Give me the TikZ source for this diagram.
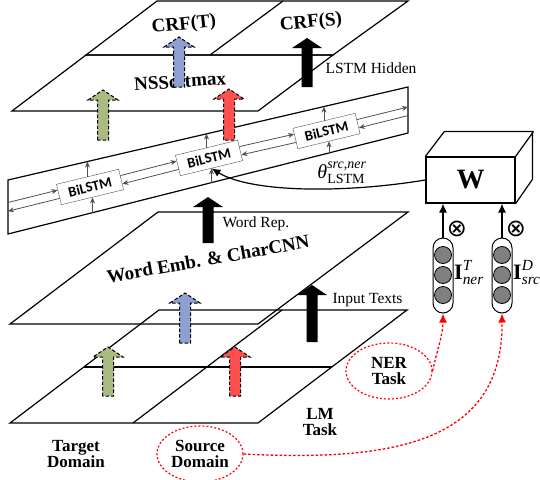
\documentclass[tikz,border=0pt]{standalone}
\usepackage{fontspec}
\usepackage{amsmath}
\setmainfont{Liberation Serif}
\newfontfamily\lstmfont{Carlito}
\newfontfamily\opfont{DejaVu Sans}
\usetikzlibrary{shapes.geometric,arrows.meta,calc}

\definecolor{softgreen}{RGB}{169,187,128}
\definecolor{softblue}{RGB}{142,160,210}
\definecolor{softred}{RGB}{255,80,80}
\definecolor{cellgray}{RGB}{128,128,128}
\definecolor{wiregray}{RGB}{80,80,80}

% block arrow pointing up: [style]{x}{bottom y}{tip y}
\newcommand{\fatarrow}[4][]{%
  \path[#1] (#2-5.5,#3) -- (#2-5.5,#4+10) -- (#2-15,#4+10) -- (#2,#4)
    -- (#2+15,#4+10) -- (#2+5.5,#4+10) -- (#2+5.5,#3) -- cycle;}

\tikzset{
  plane/.style={line width=1.2pt},
  solidup/.style={fill=black},
  dashup/.style={fill=#1, draw=black, line width=1pt, dash pattern=on 3.5pt off 2pt},
  layer/.style={font=\bfseries\fontsize{19}{21}\selectfont},
  note/.style={font=\fontsize{15.5}{17}\selectfont},
  task/.style={font=\bfseries\fontsize{17}{16}\selectfont, align=center},
  taskring/.style={task, ellipse, draw=red, line width=1.2pt, dash pattern=on 2pt off 2pt,
    minimum width=86pt, minimum height=56pt, inner sep=0pt},
  redlink/.style={red, line width=1.3pt, dash pattern=on 2.5pt off 2pt,
    -{Latex[length=9pt,width=8pt]}},
  otimes/.style={font=\opfont\fontsize{24}{24}\selectfont, inner sep=0pt},
}

\begin{document}
\begin{tikzpicture}[x=1pt,y=-1pt,
    lstm/.style={draw=wiregray, fill=white, rotate=13.6, minimum width=64pt,
      minimum height=21pt, inner sep=0pt, font=\lstmfont\bfseries\fontsize{14.5}{14.5}\selectfont},
    wire/.style={draw=wiregray, line width=0.8pt, -{Stealth[length=6pt,width=5pt]}},
    pill/.style={draw, line width=1pt, rounded corners=10pt, minimum width=20pt,
      minimum height=75pt},
    dot/.style={circle, draw, line width=0.8pt, fill=cellgray, minimum size=17pt, inner sep=0pt},
    vlabel/.style={font=\fontsize{22}{24}\selectfont, inner sep=1pt},
    wirebig/.style={line width=1.2pt, -{Latex[length=9pt,width=8pt]}}]
  \useasboundingbox (0,0) rectangle (540,479);

  % output layers
  \draw[plane] (86,55) -- (333,55) -- (408,1) -- (157,1) -- cycle;
  \draw[plane] (210,55) -- (283,1);
  \draw[plane] (12,111) -- (258,111) -- (333,55) -- (86,55) -- cycle;
  \node[layer, rotate=6] (crft) at (184,25) {CRF(T)};
  \node[layer, rotate=6] (crfs) at (311,23) {CRF(S)};
  \node[layer, rotate=4] (nss) at (180,81) {NSSoftmax};
  \node[note, anchor=west] (hid) at (322,68) {LSTM Hidden};

  % embedding and input layers
  \draw[plane] (10,324) -- (258,324) -- (408,212) -- (158,212) -- cycle;
  \draw[plane] (10,423) -- (258,423) -- (407,310) -- (159,310) -- cycle;
  \draw[plane] (84,367) -- (332,367);
  \draw[plane] (133,423) -- (282,310);
  \node[layer, rotate=10] (emb) at (208,259) {Word Emb. \& CharCNN};
  \node[note, anchor=west] (rep) at (219,224) {Word Rep.};
  \node[note, anchor=west] (inp) at (329,300) {Input Texts};
  \node[task] (lm) at (320,422) {LM\\Task};
  \node[task] (tgt) at (76,454) {Target\\Domain};
  \node[taskring] (src) at (200,454) {Source\\Domain};
  \node[taskring] (ner) at (389,371) {NER\\Task};

  % shared BiLSTM
  \draw[plane] (8,180) -- (408,87) -- (408,133) -- (8,234) -- cycle;
  \node[lstm] (b1) at (90,187) {BiLSTM};
  \node[lstm] (b2) at (209,158) {BiLSTM};
  \node[lstm] (b3) at (326.5,131) {BiLSTM};
  \coordinate (inL) at (8,202.5);
  \coordinate (outL) at (8,211.2);
  \coordinate (outR) at (408,107);
  \coordinate (inR) at (408,115.6);
  \draw[wire] (inL) -- (b1.172.5);
  \draw[wire] (b1.187.5) -- (outL);
  \draw[wire] (b1.7.5) -- (b2.172.5);
  \draw[wire] (b2.187.5) -- (b1.352.5);
  \draw[wire] (b2.7.5) -- (b3.172.5);
  \draw[wire] (b3.187.5) -- (b2.352.5);
  \draw[wire] (b3.7.5) -- (outR);
  \draw[wire] (inR) -- (b3.352.5);
  \foreach \bx/\up/\dn in {b1/15/15.5, b2/14/14.4, b3/14/12} {
    \draw[wire] (\bx.north) -- ([yshift=\up pt]\bx.north);
    \draw[wire] ([yshift=-\dn pt]\bx.south) -- (\bx.south);
  }

  % data flow
  \fatarrow[solidup]{307}{87}{38}
  \fatarrow[solidup]{208}{243}{197}
  \fatarrow[solidup]{312}{342}{285}
  \fatarrow[dashup=softblue]{179}{87}{37}
  \fatarrow[dashup=softgreen]{103}{140}{90}
  \fatarrow[dashup=softred]{229}{140}{89}
  \fatarrow[dashup=softblue]{185}{343}{293}
  \fatarrow[dashup=softgreen]{108}{396}{347}
  \fatarrow[dashup=softred]{235}{396}{347}

  % parameter generator
  \node[draw, fill=white, line width=1.2pt, minimum width=89pt, minimum height=46pt,
    font=\bfseries\fontsize{28}{28}\selectfont] (W) at (470.5,180) {W};
  \draw[line width=1.2pt] (W.north west) -- ++(19,-25) -- ++(88,0) -- ++(0,48)
    -- (W.south east) (W.north east) -- ++(18,-25);
  \node[font=\fontsize{20}{20}\selectfont] (theta) at (342,173)
    {$\text{\itshape θ}^{\textit{src,ner}}_{\text{LSTM}}$};
  \draw[wirebig] (W.west) .. controls (340,194) and (250,192) .. (b2.south);

  \node[pill] (pner) at (443,275.5) {};
  \node[pill] (psrc) at (502,275.5) {};
  \foreach \cy in {255,275,295} {
    \node[dot] (ner\cy) at (443,\cy) {};
    \node[dot] (src\cy) at (502,\cy) {};
  }
  \node[vlabel, anchor=west] (iner) at (453,273) {$\textbf{I}^{\textit{T}}_{\textit{ner}}$};
  \node[vlabel, anchor=west] (isrc) at (512,273) {$\textbf{I}^{\textit{D}}_{\textit{src}}$};
  \draw[wirebig] (pner.north) -- (pner.north |- W.south);
  \draw[wirebig] (psrc.north) -- (psrc.north |- W.south);
  \node[otimes] (xner) at (457,229) {⊗};
  \node[otimes] (xsrc) at (516,229) {⊗};

  \draw[redlink] (ner.east) .. controls (437,350) and (443,335) .. (pner.south);
  \draw[redlink] (src.east) .. controls (400,462) and (503,440) .. (psrc.south);
\end{tikzpicture}
\end{document}
